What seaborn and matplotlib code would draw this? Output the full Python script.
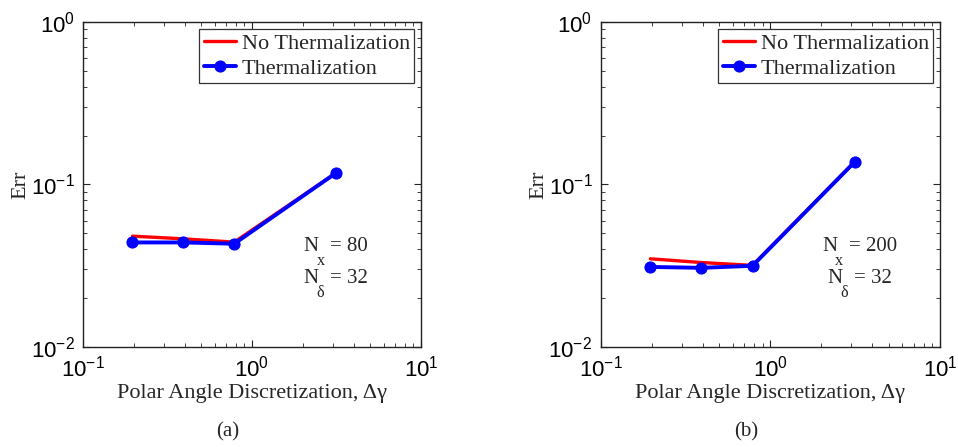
import numpy as np
import pandas as pd
import seaborn as sns
import matplotlib
matplotlib.use("Agg")
import matplotlib.pyplot as plt
from matplotlib.ticker import FuncFormatter, NullFormatter, LogLocator

# ---- data ----
dgamma = [np.pi / 16, np.pi / 8, np.pi / 4, np.pi]
err_noth_a = [0.0481, 0.0463, 0.0442, 0.1178]
err_th_a = [0.0440, 0.0440, 0.0432, 0.1178]
err_noth_b = [0.0349, 0.0331, 0.0318, 0.1377]
err_th_b = [0.0311, 0.0307, 0.0316, 0.1377]
series_names = ["No Thermalization", "Thermalization"]
annot_a = ("80", "32")
annot_b = ("200", "32")
captions = ["(a)", "(b)"]

sns.set_style("ticks")
plt.rcParams["font.family"] = ["Liberation Serif", "DejaVu Serif"]
plt.rcParams["mathtext.fontset"] = "custom"
plt.rcParams["mathtext.rm"] = "Liberation Serif"
plt.rcParams["mathtext.it"] = "Liberation Serif"
plt.rcParams["mathtext.bf"] = "Liberation Serif"
plt.rcParams["mathtext.sf"] = "Liberation Sans"

fig = plt.figure(figsize=(9.58, 4.47), dpi=100)
ax_a = fig.add_axes([0.0866, 0.2237, 0.3529, 0.7271])
ax_b = fig.add_axes([0.627, 0.2237, 0.3542, 0.7271])

panels = [
    (ax_a, err_noth_a, err_th_a, annot_a, (0.651, 0.667), 0.651),
    (ax_b, err_noth_b, err_th_b, annot_b, (0.652, 0.667), 0.667),
]


def fmt(v, p):
    e = int(round(np.log10(v)))
    return r"$\mathsf{10^{%d}}$" % e


def sub_label(ax, fx, fy, sub, rest, fs=15):
    ax.annotate("N", xy=(fx, fy), xycoords="axes fraction", fontsize=fs,
                ha="left", va="center")
    ax.annotate(sub, xy=(fx, fy), xycoords="axes fraction",
                xytext=(9.6, -10.5), textcoords="offset points",
                fontsize=fs * 0.78, ha="left", va="center")
    ax.annotate(rest, xy=(fx, fy), xycoords="axes fraction",
                xytext=(19.5, 0), textcoords="offset points",
                fontsize=fs, ha="left", va="center")


for i, (ax, noth, th, ann, _, dx) in enumerate(panels):
    df1 = pd.DataFrame({"x": dgamma, "y": noth})
    df2 = pd.DataFrame({"x": dgamma, "y": th})
    sns.lineplot(data=df1, x="x", y="y", ax=ax, color="#ff0000", lw=2.4,
                 label=series_names[0])
    sns.lineplot(data=df2, x="x", y="y", ax=ax, color="#0000ff", lw=2.8,
                 marker="o", markersize=8, markeredgecolor="#0000ff",
                 label=series_names[1])
    ax.set_xscale("log")
    ax.set_yscale("log")
    ax.set_xlim(0.1, 10)
    ax.set_ylim(0.01, 1)
    ax.xaxis.set_major_locator(LogLocator(base=10, numticks=10))
    ax.yaxis.set_major_locator(LogLocator(base=10, numticks=10))
    ax.xaxis.set_minor_locator(LogLocator(base=10, subs=np.arange(2, 10), numticks=20))
    ax.yaxis.set_minor_locator(LogLocator(base=10, subs=np.arange(2, 10), numticks=20))
    ax.xaxis.set_major_formatter(FuncFormatter(fmt))
    ax.yaxis.set_major_formatter(FuncFormatter(fmt))
    ax.xaxis.set_minor_formatter(NullFormatter())
    ax.yaxis.set_minor_formatter(NullFormatter())
    ax.tick_params(which="both", direction="in", top=True, right=True,
                   colors="#222222", labelcolor="black", labelsize=16, pad=6)
    ax.tick_params(which="major", length=5, width=0.8)
    ax.tick_params(which="minor", length=3, width=0.6)
    for s in ax.spines.values():
        s.set_visible(True)
        s.set_color("#222222")
        s.set_linewidth(1.0)
    ax.set_xlabel("Polar Angle Discretization, Δγ", fontsize=16, labelpad=2)
    ax.set_ylabel("Err", fontsize=16, labelpad=0)
    leg = ax.legend(loc="upper right", fontsize=16, frameon=True, fancybox=False,
                    edgecolor="#333333", framealpha=1, borderpad=0.2,
                    handlelength=1.45, handletextpad=0.25, labelspacing=0.2,
                    borderaxespad=0.3)
    leg.get_frame().set_linewidth(0.9)
    sub_label(ax, 0.651 if i == 0 else 0.652, 0.308, "x", "= " + ann[0])
    sub_label(ax, dx, 0.212, "δ", "= " + ann[1])
    ax.text(0.428, -0.262, captions[i], transform=ax.transAxes, fontsize=15,
            ha="center", va="center")

fig.savefig("out.png", dpi=100)
